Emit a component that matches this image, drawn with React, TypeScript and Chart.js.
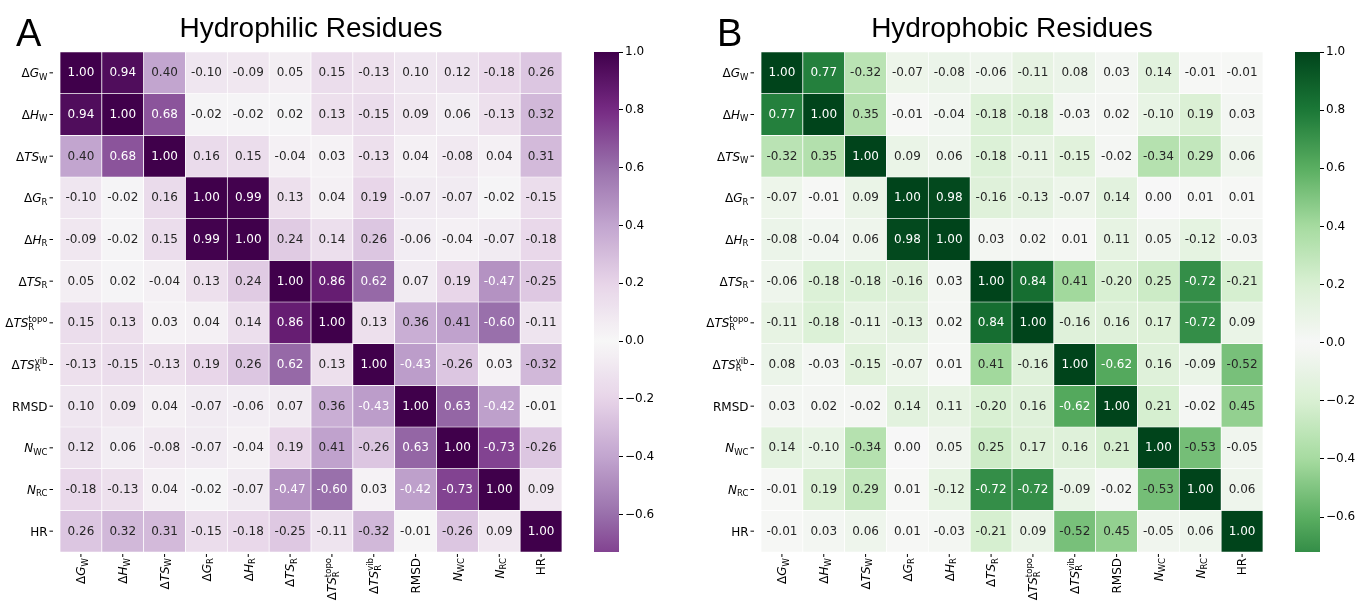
import React, { useEffect, useRef } from 'react';
import { Chart, registerables } from 'chart.js';
Chart.register(...registerables);

// ---------- data ----------
const variableNames = ['ΔG_W', 'ΔH_W', 'ΔTS_W', 'ΔG_R', 'ΔH_R', 'ΔTS_R', 'ΔTS_R^topo', 'ΔTS_R^vib', 'RMSD', 'N_WC', 'N_RC', 'HR'];
// rich label parts: upright prefix, italic part, subscript, superscript
const labelPre = ['Δ', 'Δ', 'Δ', 'Δ', 'Δ', 'Δ', 'Δ', 'Δ', 'RMSD', '', '', 'HR'];
const labelItalic = ['G', 'H', 'TS', 'G', 'H', 'TS', 'TS', 'TS', '', 'N', 'N', ''];
const labelSub = ['W', 'W', 'W', 'R', 'R', 'R', 'R', 'R', '', 'WC', 'RC', ''];
const labelSup = ['', '', '', '', '', '', 'topo', 'vib', '', '', '', ''];

const hydrophilic = [
  [1.00, 0.94, 0.40, -0.10, -0.09, 0.05, 0.15, -0.13, 0.10, 0.12, -0.18, 0.26],
  [0.94, 1.00, 0.68, -0.02, -0.02, 0.02, 0.13, -0.15, 0.09, 0.06, -0.13, 0.32],
  [0.40, 0.68, 1.00, 0.16, 0.15, -0.04, 0.03, -0.13, 0.04, -0.08, 0.04, 0.31],
  [-0.10, -0.02, 0.16, 1.00, 0.99, 0.13, 0.04, 0.19, -0.07, -0.07, -0.02, -0.15],
  [-0.09, -0.02, 0.15, 0.99, 1.00, 0.24, 0.14, 0.26, -0.06, -0.04, -0.07, -0.18],
  [0.05, 0.02, -0.04, 0.13, 0.24, 1.00, 0.86, 0.62, 0.07, 0.19, -0.47, -0.25],
  [0.15, 0.13, 0.03, 0.04, 0.14, 0.86, 1.00, 0.13, 0.36, 0.41, -0.60, -0.11],
  [-0.13, -0.15, -0.13, 0.19, 0.26, 0.62, 0.13, 1.00, -0.43, -0.26, 0.03, -0.32],
  [0.10, 0.09, 0.04, -0.07, -0.06, 0.07, 0.36, -0.43, 1.00, 0.63, -0.42, -0.01],
  [0.12, 0.06, -0.08, -0.07, -0.04, 0.19, 0.41, -0.26, 0.63, 1.00, -0.73, -0.26],
  [-0.18, -0.13, 0.04, -0.02, -0.07, -0.47, -0.60, 0.03, -0.42, -0.73, 1.00, 0.09],
  [0.26, 0.32, 0.31, -0.15, -0.18, -0.25, -0.11, -0.32, -0.01, -0.26, 0.09, 1.00],
];

const hydrophobic = [
  [1.00, 0.77, -0.32, -0.07, -0.08, -0.06, -0.11, 0.08, 0.03, 0.14, -0.01, -0.01],
  [0.77, 1.00, 0.35, -0.01, -0.04, -0.18, -0.18, -0.03, 0.02, -0.10, 0.19, 0.03],
  [-0.32, 0.35, 1.00, 0.09, 0.06, -0.18, -0.11, -0.15, -0.02, -0.34, 0.29, 0.06],
  [-0.07, -0.01, 0.09, 1.00, 0.98, -0.16, -0.13, -0.07, 0.14, 0.00, 0.01, 0.01],
  [-0.08, -0.04, 0.06, 0.98, 1.00, 0.03, 0.02, 0.01, 0.11, 0.05, -0.12, -0.03],
  [-0.06, -0.18, -0.18, -0.16, 0.03, 1.00, 0.84, 0.41, -0.20, 0.25, -0.72, -0.21],
  [-0.11, -0.18, -0.11, -0.13, 0.02, 0.84, 1.00, -0.16, 0.16, 0.17, -0.72, 0.09],
  [0.08, -0.03, -0.15, -0.07, 0.01, 0.41, -0.16, 1.00, -0.62, 0.16, -0.09, -0.52],
  [0.03, 0.02, -0.02, 0.14, 0.11, -0.20, 0.16, -0.62, 1.00, 0.21, -0.02, 0.45],
  [0.14, -0.10, -0.34, 0.00, 0.05, 0.25, 0.17, 0.16, 0.21, 1.00, -0.53, -0.05],
  [-0.01, 0.19, 0.29, 0.01, -0.12, -0.72, -0.72, -0.09, -0.02, -0.53, 1.00, 0.06],
  [-0.01, 0.03, 0.06, 0.01, -0.03, -0.21, 0.09, -0.52, 0.45, -0.05, 0.06, 1.00],
];

const colorbarTicks = [-0.6, -0.4, -0.2, 0.0, 0.2, 0.4, 0.6, 0.8, 1.0];
const rangeA = [-0.73, 1.0];
const rangeB = [-0.72, 1.0];
const titleA = 'Hydrophilic Residues';
const titleB = 'Hydrophobic Residues';

// ---------- colours ----------
const purpleRamp = ['#f7f7f7', '#e7d4e8', '#c2a5cf', '#9970ab', '#762a83', '#40004b'];
const greenRamp = ['#f7f7f7', '#d9f0d3', '#a6dba0', '#5aae61', '#1b7837', '#00441b'];

function hexToRgb(h: string) {
  return [parseInt(h.slice(1, 3), 16), parseInt(h.slice(3, 5), 16), parseInt(h.slice(5, 7), 16)];
}
function rampRgb(ramp: string[], v: number) {
  const t = Math.min(1, Math.abs(v)) * (ramp.length - 1);
  const i = Math.min(ramp.length - 2, Math.floor(t));
  const f = t - i;
  const a = hexToRgb(ramp[i]);
  const b = hexToRgb(ramp[i + 1]);
  return [0, 1, 2].map((k) => a[k] + (b[k] - a[k]) * f);
}
function rgbStr(c: number[]) {
  return `rgb(${Math.round(c[0])},${Math.round(c[1])},${Math.round(c[2])})`;
}
function luminance(c: number[]) {
  const lin = c.map((x) => {
    const s = x / 255;
    return s <= 0.03928 ? s / 12.92 : Math.pow((s + 0.055) / 1.055, 2.4);
  });
  return 0.2126 * lin[0] + 0.7152 * lin[1] + 0.0722 * lin[2];
}

// ---------- rich label drawing ----------
const MAIN = 12;
const SMALL = 8.5;
const FONT = '"DejaVu Sans", sans-serif';

function labelWidth(ctx: CanvasRenderingContext2D, i: number) {
  ctx.font = `${MAIN}px ${FONT}`;
  let w = ctx.measureText(labelPre[i]).width;
  ctx.font = `italic ${MAIN}px ${FONT}`;
  w += ctx.measureText(labelItalic[i]).width;
  ctx.font = `${SMALL}px ${FONT}`;
  w += Math.max(ctx.measureText(labelSub[i]).width, ctx.measureText(labelSup[i]).width);
  return w;
}
// draws label i with right edge at x, vertical centre at y
function drawLabel(ctx: CanvasRenderingContext2D, i: number, xRight: number, yMid: number) {
  const w = labelWidth(ctx, i);
  let x = xRight - w;
  const base = yMid + MAIN * 0.365;
  ctx.textBaseline = 'alphabetic';
  ctx.textAlign = 'left';
  ctx.fillStyle = '#000';
  ctx.font = `${MAIN}px ${FONT}`;
  ctx.fillText(labelPre[i], x, base);
  x += ctx.measureText(labelPre[i]).width;
  ctx.font = `italic ${MAIN}px ${FONT}`;
  ctx.fillText(labelItalic[i], x, base);
  x += ctx.measureText(labelItalic[i]).width;
  ctx.font = `${SMALL}px ${FONT}`;
  if (labelSub[i]) ctx.fillText(labelSub[i], x, base + 2.5);
  if (labelSup[i]) ctx.fillText(labelSup[i], x, base - 5);
}

function makeHeatmapPlugin(letter: string, title: string, ramp: string[], matrix: number[][]) {
  return {
    id: 'heatmapDecor',
    afterDatasetsDraw(chart: any) {
      const ctx: CanvasRenderingContext2D = chart.ctx;
      const xs = chart.scales.x;
      const ys = chart.scales.y;
      const area = chart.chartArea;
      ctx.save();
      // annotations
      chart.data.datasets.forEach((ds: any, r: number) => {
        const meta = chart.getDatasetMeta(r);
        meta.data.forEach((bar: any, c: number) => {
          const v = matrix[r][c];
          const col = rampRgb(ramp, v);
          ctx.fillStyle = luminance(col) > 0.408 ? '#262626' : '#ffffff';
          ctx.font = `12px ${FONT}`;
          ctx.textAlign = 'center';
          ctx.textBaseline = 'middle';
          const cy = (bar.y + bar.base) / 2;
          ctx.fillText(v.toFixed(2), bar.x, cy + 0.5);
        });
      });
      // y labels + ticks
      ctx.strokeStyle = '#000';
      ctx.lineWidth = 1;
      variableNames.forEach((_, i) => {
        const y = ys.getPixelForValue(i + 0.5);
        ctx.beginPath();
        ctx.moveTo(area.left - 10.5, y);
        ctx.lineTo(area.left - 7, y);
        ctx.stroke();
        drawLabel(ctx, i, area.left - 12.5, y);
      });
      // x labels + ticks
      variableNames.forEach((_, i) => {
        const x = xs.getPixelForValue(i);
        ctx.beginPath();
        ctx.moveTo(x, area.bottom + 2);
        ctx.lineTo(x, area.bottom + 5);
        ctx.stroke();
        ctx.save();
        ctx.translate(x, area.bottom + 6);
        ctx.rotate(-Math.PI / 2);
        drawLabel(ctx, i, 0, 0);
        ctx.restore();
      });
      // title & letter
      ctx.fillStyle = '#000';
      ctx.textBaseline = 'alphabetic';
      ctx.textAlign = 'center';
      ctx.font = `28px "Liberation Sans", Arial, sans-serif`;
      ctx.fillText(title, (area.left + area.right) / 2, 37);
      ctx.textAlign = 'left';
      ctx.font = `38px "Liberation Sans", Arial, sans-serif`;
      ctx.fillText(letter, area.left - 44, 46);
      ctx.restore();
    },
  };
}

function Heatmap(props: { matrix: number[][]; ramp: string[]; letter: string; title: string; left: number; width: number; padLeft: number }) {
  const ref = useRef<HTMLCanvasElement>(null);
  useEffect(() => {
    const { matrix, ramp } = props;
    const chart = new Chart(ref.current!, {
      type: 'bar',
      data: {
        labels: variableNames,
        datasets: matrix.map((row, r) => ({
          label: variableNames[r],
          data: row.map(() => [r, r + 1] as any),
          backgroundColor: row.map((v) => rgbStr(rampRgb(ramp, v))),
          borderColor: '#ffffff',
          borderWidth: 0.7,
          borderSkipped: false,
          barPercentage: 1,
          categoryPercentage: 1,
        })),
      },
      options: {
        responsive: false,
        maintainAspectRatio: false,
        animation: false,
        layout: { padding: { left: props.padLeft, right: props.width - props.padLeft - 502, top: 52, bottom: 50 } },
        plugins: { legend: { display: false }, tooltip: { enabled: false }, title: { display: false } },
        scales: {
          x: { type: 'category', stacked: true, display: false, offset: true },
          y: { type: 'linear', stacked: false, display: false, min: 0, max: 12, reverse: true },
        },
      },
      plugins: [makeHeatmapPlugin(props.letter, props.title, ramp, matrix)],
    });
    return () => chart.destroy();
  }, []);
  return (
    <canvas
      ref={ref}
      width={props.width}
      height={602}
      style={{ position: 'absolute', left: props.left, top: 0, width: props.width, height: 602 }}
    />
  );
}

function Colorbar(props: { range: number[]; ramp: string[]; left: number; width: number }) {
  const ref = useRef<HTMLCanvasElement>(null);
  useEffect(() => {
    const [vmin, vmax] = props.range;
    const ramp = props.ramp;
    const chart = new Chart(ref.current!, {
      type: 'bar',
      data: {
        labels: ['cb'],
        datasets: [
          {
            data: [[vmin, vmax] as any],
            backgroundColor: (c: any) => {
              const ch = c.chart;
              const a = ch.chartArea;
              if (!a) return '#ccc';
              const g = ch.ctx.createLinearGradient(0, a.bottom, 0, a.top);
              const n = 64;
              for (let k = 0; k <= n; k++) {
                const v = vmin + ((vmax - vmin) * k) / n;
                g.addColorStop(k / n, rgbStr(rampRgb(ramp, v)));
              }
              return g;
            },
            borderWidth: 0,
            barPercentage: 1,
            categoryPercentage: 1,
          },
        ],
      },
      options: {
        responsive: false,
        maintainAspectRatio: false,
        animation: false,
        layout: { padding: { left: 0, right: 0, top: 52, bottom: 50 } },
        plugins: { legend: { display: false }, tooltip: { enabled: false } },
        scales: {
          x: { display: false, offset: true },
          y: {
            position: 'right',
            min: vmin,
            max: vmax,
            afterBuildTicks: (s: any) => {
              s.ticks = colorbarTicks.map((v) => ({ value: v }));
            },
            afterFit: (s: any) => {
              s.width = props.width - 25;
            },
            ticks: {
              padding: 2,
              color: '#000',
              font: { family: 'DejaVu Sans', size: 12 },
              callback: (v: any) => {
                const n = Number(v);
                const s = Math.abs(n).toFixed(1);
                return n < -1e-9 ? '\u2212' + s : s;
              },
            },
            grid: { drawOnChartArea: false, drawTicks: true, tickLength: 4, color: '#000', lineWidth: 1 },
            border: { display: false },
          },
        },
      },
    });
    return () => chart.destroy();
  }, []);
  return (
    <canvas
      ref={ref}
      width={props.width}
      height={602}
      style={{ position: 'absolute', left: props.left, top: 0, width: props.width, height: 602 }}
    />
  );
}

export default function App() {
  return (
    <div style={{ position: 'absolute', left: 0, top: 0, width: 1356, height: 602, background: '#fff', overflow: 'hidden' }}>
      <Heatmap matrix={hydrophilic} ramp={purpleRamp} letter="A" title={titleA} left={0} width={594} padLeft={60} />
      <Colorbar range={rangeA} ramp={purpleRamp} left={594} width={80} />
      <Heatmap matrix={hydrophobic} ramp={greenRamp} letter="B" title={titleB} left={700} width={595} padLeft={61} />
      <Colorbar range={rangeB} ramp={greenRamp} left={1295} width={61} />
    </div>
  );
}
